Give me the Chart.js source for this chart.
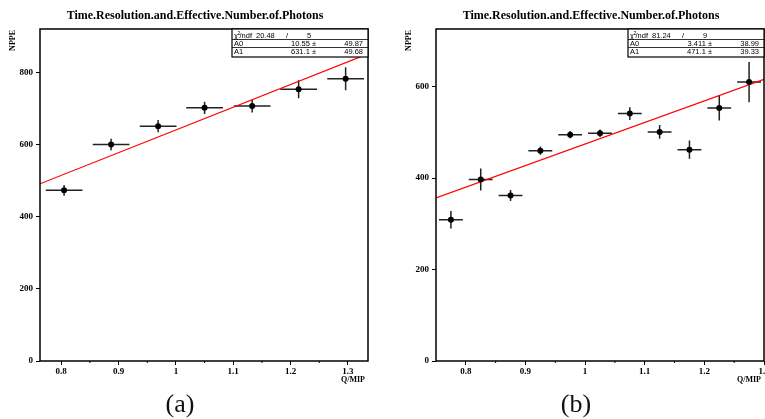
<!DOCTYPE html>
<html>
<head>
<meta charset="utf-8">
<script src="https://cdn.jsdelivr.net/npm/chart.js@4.4.1/dist/chart.umd.min.js"></script>
<style>
  html, body { margin: 0; padding: 0; background: #fff; overflow: hidden; }
  #wrap { position: relative; width: 765px; height: 419px; overflow: hidden; }
  canvas { position: absolute; top: 0; }
  #chartA { left: 0; }
  #chartB { left: 385px; }
  .cap { position: absolute; top: 391px; font-family: "Liberation Serif", serif; font-size: 26px; line-height: 1; transform: translateX(-50%); color: #111; }
</style>
</head>
<body>
<div id="wrap">
  <canvas id="chartA" width="385" height="419"></canvas>
  <canvas id="chartB" width="410" height="419"></canvas>
  <div class="cap" style="left:180px">(a)</div>
  <div class="cap" style="left:576px">(b)</div>
</div>
<script>
// ------------------------------
// DATA
// ------------------------------
const titleText = "Time.Resolution.and.Effective.Number.of.Photons";

// panel (a)
const xA = [0.805, 0.887, 0.969, 1.050, 1.133, 1.214, 1.296];
const yA = [474, 601, 652, 703, 708, 755, 784];
const exA = [0.032, 0.032, 0.032, 0.032, 0.032, 0.032, 0.032];
const eyA = [15, 16, 17, 17, 18, 25, 32];
const xTicksA = [0.8, 0.9, 1, 1.1, 1.2, 1.3];
const yTicksA = [0, 200, 400, 600, 800];
const xRangeA = [0.763, 1.335];
const yRangeA = [0, 922];
const chi2A = ["20.48", "5"];
const a0A = [10.55, 49.87];
const a1A = [631.1, 49.68];

// panel (b)
const xB = [0.775, 0.825, 0.875, 0.925, 0.975, 1.025, 1.075, 1.125, 1.175, 1.225, 1.275];
const yB = [309, 397, 362, 460, 495, 498, 541, 501, 462, 553, 610];
const exB = [0.02, 0.02, 0.02, 0.02, 0.02, 0.02, 0.02, 0.02, 0.02, 0.02, 0.02];
const eyB = [19, 24, 12, 9, 8, 8, 14, 15, 20, 27, 44];
const xTicksB = [0.8, 0.9, 1, 1.1, 1.2, 1.3];
const yTicksB = [0, 200, 400, 600];
const xRangeB = [0.75, 1.30];
const yRangeB = [0, 726];
const chi2B = ["81.24", "9"];
const a0B = [3.411, 38.99];
const a1B = [471.1, 39.33];

const serif = "'Liberation Serif', 'Times New Roman', serif";
const sans = "'Liberation Sans', Arial, sans-serif";

// ------------------------------
// ROOT-like decorations: error bars, frame, stats box, titles
// ------------------------------
const rootStyle = {
  id: "rootStyle",
  beforeDatasetsDraw(chart, args, o) {
    const { ctx, chartArea: ca, scales: { x, y } } = chart;
    ctx.save();
    ctx.beginPath();
    ctx.rect(ca.left, ca.top, ca.right - ca.left, ca.bottom - ca.top);
    ctx.clip();
    ctx.strokeStyle = "#222";
    ctx.lineWidth = 1.5;
    o.xs.forEach((xv, i) => {
      const px = x.getPixelForValue(xv);
      const py = y.getPixelForValue(o.ys[i]);
      ctx.beginPath();
      ctx.moveTo(x.getPixelForValue(xv - o.ex[i]), py);
      ctx.lineTo(x.getPixelForValue(xv + o.ex[i]), py);
      ctx.moveTo(px, y.getPixelForValue(o.ys[i] - o.ey[i]));
      ctx.lineTo(px, y.getPixelForValue(o.ys[i] + o.ey[i]));
      ctx.stroke();
    });
    ctx.restore();
  },
  afterDraw(chart, args, o) {
    const { ctx, chartArea: ca, scales: { x } } = chart;
    ctx.save();

    // frame
    ctx.strokeStyle = "#000";
    ctx.lineWidth = 1.5;
    ctx.strokeRect(ca.left, ca.top, ca.right - ca.left, ca.bottom - ca.top);

    // minor x ticks
    ctx.lineWidth = 1;
    for (let i = 0; i < o.xTicks.length; i++) {
      const v = o.xTicks[i] + 0.05;
      const px = x.getPixelForValue(v);
      if (px > ca.right - 1) continue;
      ctx.beginPath();
      ctx.moveTo(px, ca.bottom);
      ctx.lineTo(px, ca.bottom + 2);
      ctx.stroke();
    }

    // title
    ctx.fillStyle = "#000";
    ctx.font = "bold 12px " + serif;
    ctx.textAlign = "center";
    ctx.textBaseline = "alphabetic";
    ctx.fillText(titleText, (ca.left + ca.right) / 2 - 9, 18.5);

    // axis titles
    ctx.font = "bold 8px " + serif;
    ctx.textAlign = "right";
    ctx.fillText("Q/MIP", ca.right - 3, 381.5);
    ctx.save();
    ctx.translate(ca.left - 27, ca.top + 1);
    ctx.rotate(-Math.PI / 2);
    ctx.textAlign = "right";
    ctx.textBaseline = "middle";
    ctx.fillText("NPPE", 0, 0);
    ctx.restore();

    // stats box
    const R = ca.right, L = R - 136, T = ca.top, B = T + 28;
    ctx.fillStyle = "#fff";
    ctx.fillRect(L, T, R - L, B - T);
    ctx.strokeStyle = "#000";
    ctx.lineWidth = 1.2;
    ctx.strokeRect(L, T, R - L, B - T);
    ctx.lineWidth = 0.8;
    ctx.beginPath();
    ctx.moveTo(L, T + 10.5); ctx.lineTo(R, T + 10.5);
    ctx.moveTo(L, T + 18.5); ctx.lineTo(R, T + 18.5);
    ctx.stroke();

    ctx.fillStyle = "#000";
    ctx.font = "7.5px " + sans;
    ctx.textBaseline = "alphabetic";
    ctx.textAlign = "left";
    const r1 = T + 8.5, r2 = T + 16.8, r3 = T + 25;
    ctx.fillText("\u03c7", L + 2, r1);
    ctx.font = "5px " + sans;
    ctx.fillText("2", L + 5.5, r1 - 3);
    ctx.font = "7.5px " + sans;
    ctx.fillText("/ndf", L + 7.5, r1);
    ctx.fillText(o.chi2[0], L + 24, r1);
    ctx.fillText("/", L + 54, r1);
    ctx.fillText(o.chi2[1], L + 75, r1);
    ctx.fillText("A0", L + 2, r2);
    ctx.fillText("A1", L + 2, r3);
    ctx.textAlign = "right";
    ctx.fillText(o.a0[0] + " \u00b1", L + 84, r2);
    ctx.fillText(o.a1[0] + " \u00b1", L + 84, r3);
    ctx.fillText(o.a0[1].toFixed(2), R - 5, r2);
    ctx.fillText(o.a1[1].toFixed(2), R - 5, r3);

    ctx.restore();
  }
};

function makeChart(id, p) {
  const fitLine = [
    { x: p.xRange[0], y: p.a0[0] + p.a1[0] * p.xRange[0] },
    { x: p.xRange[1], y: p.a0[0] + p.a1[0] * p.xRange[1] }
  ];
  const tickFont = { family: serif, weight: "bold", size: 9 };
  const canvas = document.getElementById(id);

  return new Chart(canvas, {
    type: "scatter",
    data: {
      datasets: [
        {
          data: p.xs.map((v, i) => ({ x: v, y: p.ys[i] })),
          pointRadius: 3,
          pointBackgroundColor: "#000",
          pointBorderColor: "#000",
          pointBorderWidth: 0,
          showLine: false
        },
        {
          type: "line",
          data: fitLine,
          borderColor: "#ff0000",
          borderWidth: 1.2,
          pointRadius: 0,
          fill: false
        }
      ]
    },
    options: {
      responsive: false,
      animation: false,
      devicePixelRatio: 1,
      layout: { padding: { left: 0, top: 29, right: canvas.width - p.right, bottom: 0 } },
      plugins: {
        legend: { display: false },
        title: { display: false },
        tooltip: { enabled: false },
        rootStyle: {
          xs: p.xs, ys: p.ys, ex: p.ex, ey: p.ey,
          xTicks: p.xTicks, chi2: p.chi2, a0: p.a0, a1: p.a1
        }
      },
      scales: {
        x: {
          type: "linear",
          min: p.xRange[0],
          max: p.xRange[1],
          afterBuildTicks: axis => { axis.ticks = p.xTicks.map(v => ({ value: v })); },
          afterFit: axis => { axis.height = canvas.height - 361; },
          grid: { display: true, drawOnChartArea: false, drawTicks: true, tickLength: 4, color: "#000" },
          border: { display: false },
          ticks: {
            autoSkip: false, maxRotation: 0, padding: 1, color: "#000", font: tickFont,
            callback: v => String(v)
          }
        },
        y: {
          type: "linear",
          min: p.yRange[0],
          max: p.yRange[1],
          afterBuildTicks: axis => { axis.ticks = p.yTicks.map(v => ({ value: v })); },
          afterFit: axis => { axis.width = p.left; },
          grid: { display: true, drawOnChartArea: false, drawTicks: true, tickLength: 4, color: "#000" },
          border: { display: false },
          ticks: { autoSkip: false, padding: 3, color: "#000", font: tickFont, callback: v => String(v) }
        }
      }
    },
    plugins: [rootStyle]
  });
}

// ------------------------------
// INIT
// ------------------------------
makeChart("chartA", {
  xs: xA, ys: yA, ex: exA, ey: eyA, xTicks: xTicksA, yTicks: yTicksA,
  xRange: xRangeA, yRange: yRangeA, chi2: chi2A, a0: a0A, a1: a1A,
  left: 40, right: 368
});

makeChart("chartB", {
  xs: xB, ys: yB, ex: exB, ey: eyB, xTicks: xTicksB, yTicks: yTicksB,
  xRange: xRangeB, yRange: yRangeB, chi2: chi2B, a0: a0B, a1: a1B,
  left: 51, right: 379
});
</script>
</body>
</html>
